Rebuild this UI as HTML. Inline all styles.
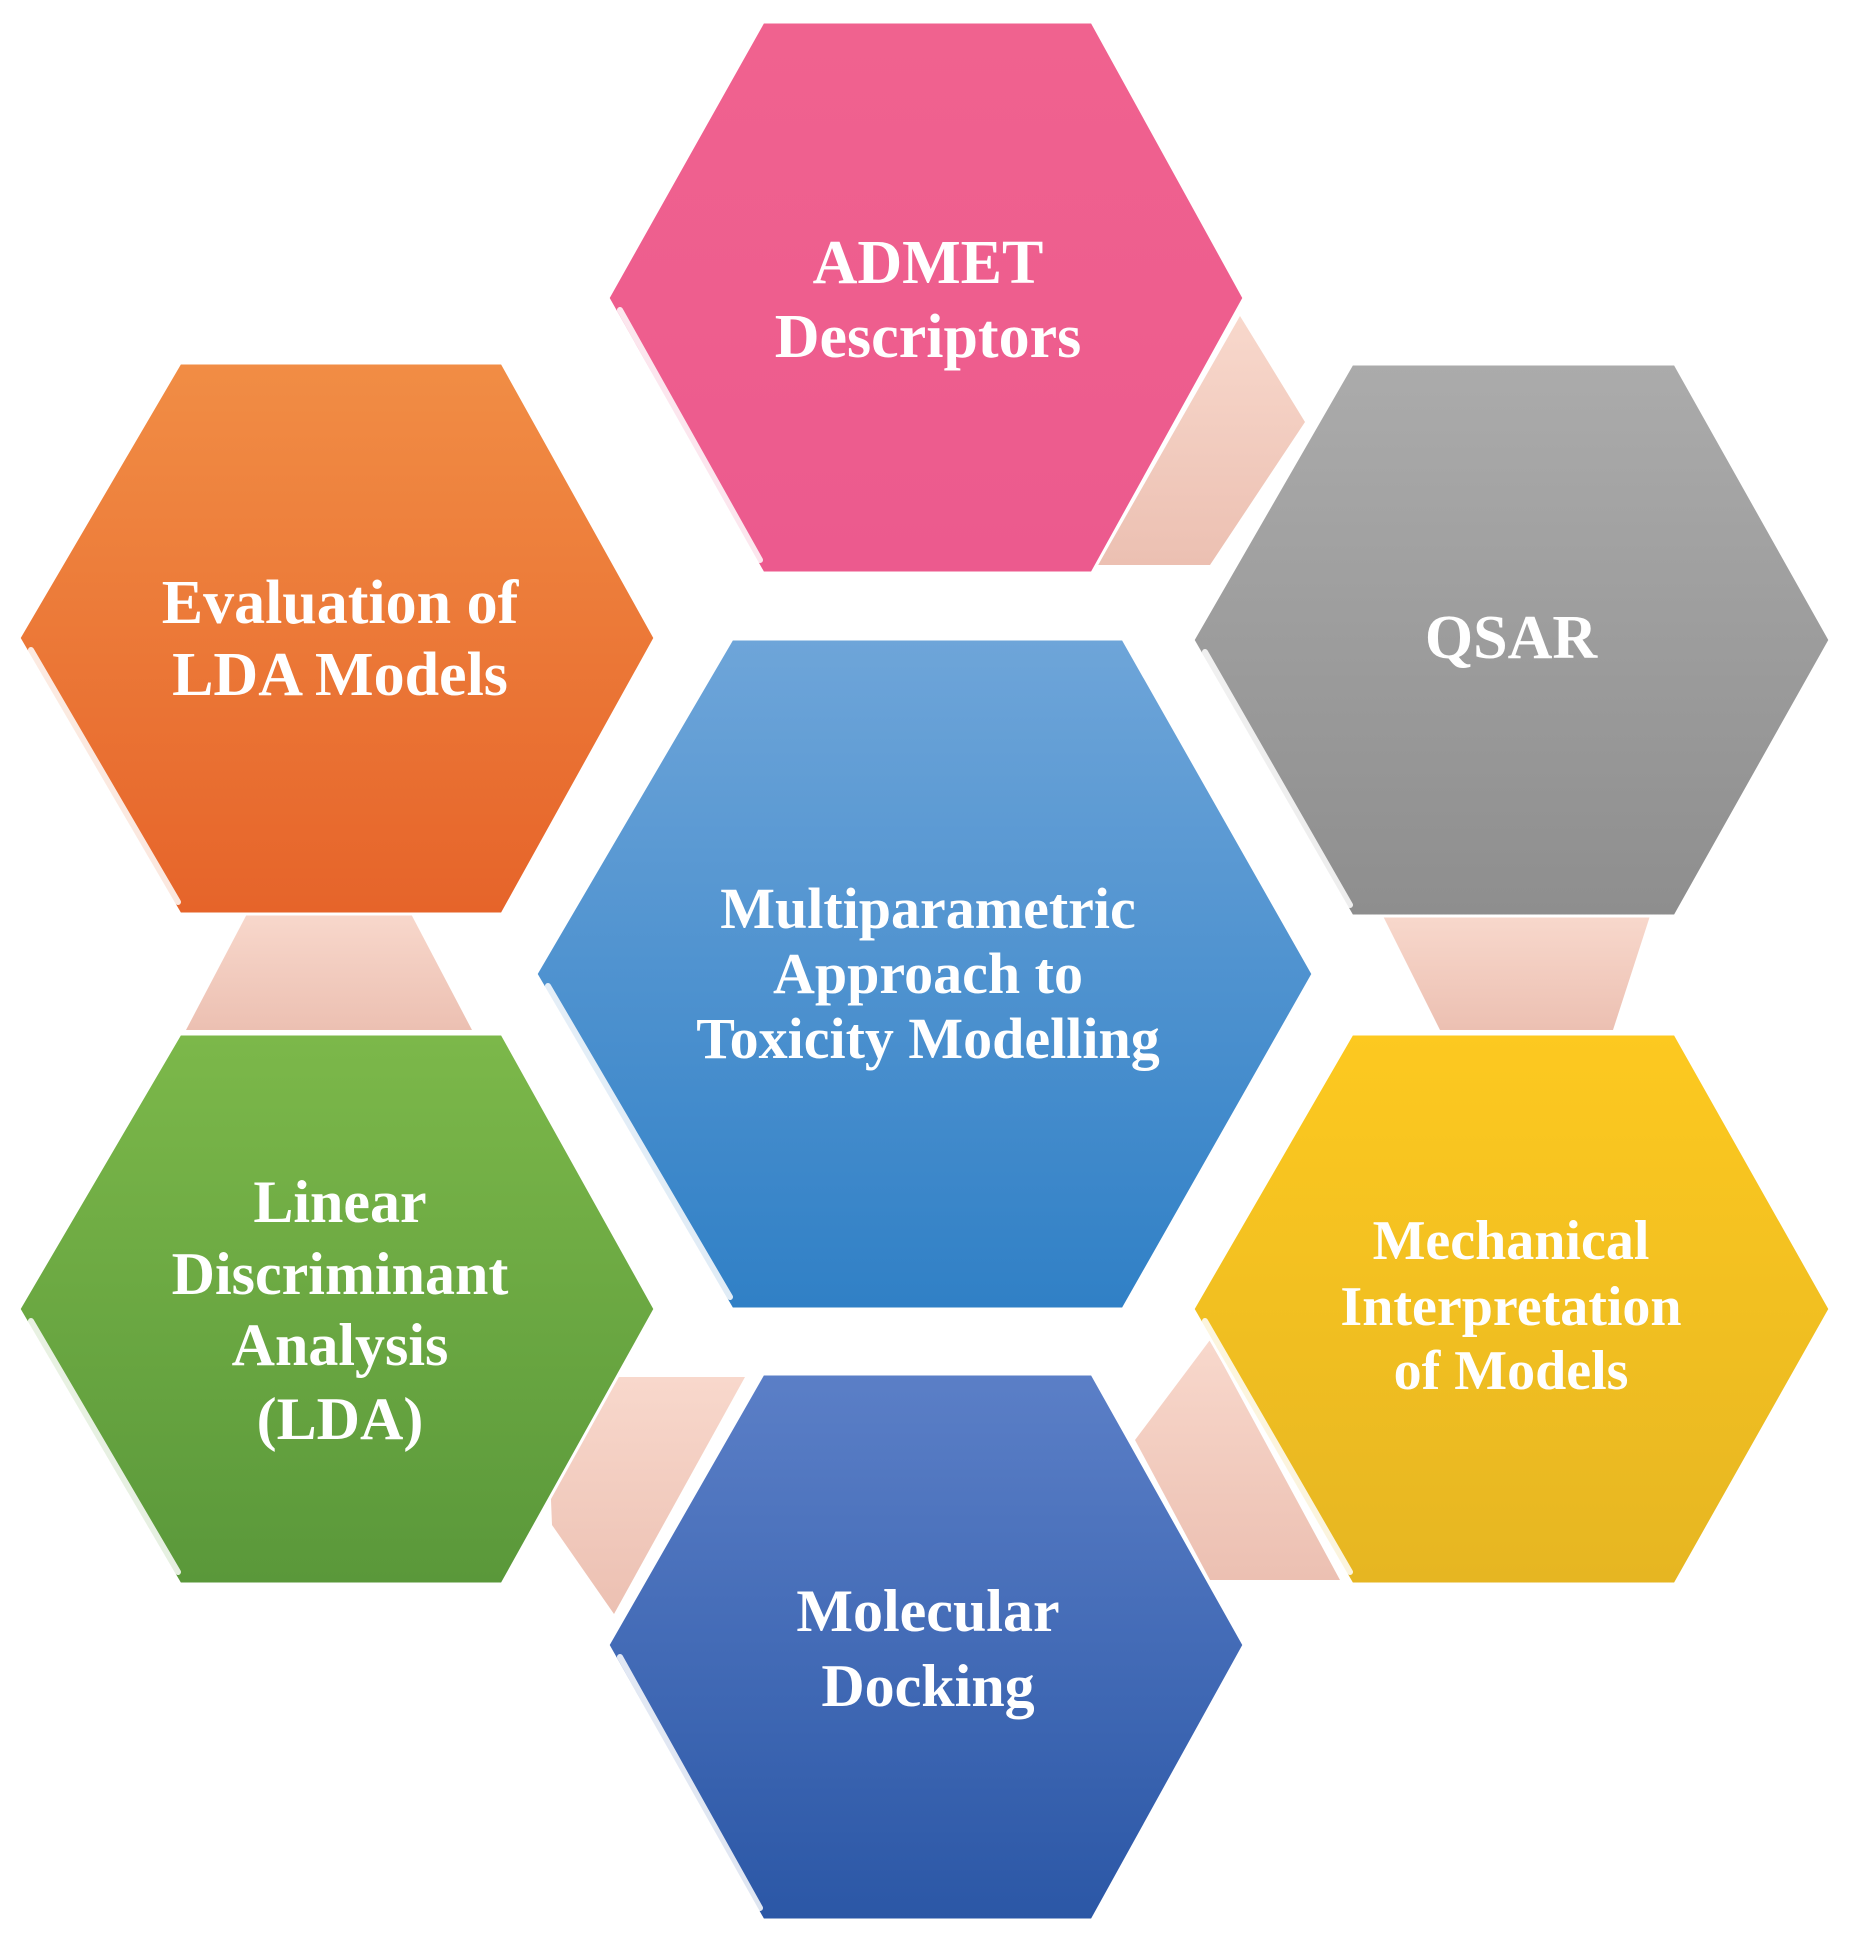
<!DOCTYPE html>
<html><head><meta charset="utf-8"><style>
html,body{margin:0;padding:0;background:#fff;}
svg{display:block}
text{font-family:"Liberation Serif",serif;font-weight:bold;fill:#fff;text-anchor:middle;}
</style></head><body>
<svg width="1850" height="1950" viewBox="0 0 1850 1950" xmlns="http://www.w3.org/2000/svg">
<defs>
<linearGradient id="pk" x1="0" y1="0" x2="0" y2="1"><stop offset="0" stop-color="#f0628f"/><stop offset="1" stop-color="#ec5a8e"/></linearGradient>
<linearGradient id="gr" x1="0" y1="0" x2="0" y2="1"><stop offset="0" stop-color="#ababab"/><stop offset="1" stop-color="#8e8e8e"/></linearGradient>
<linearGradient id="or" x1="0" y1="0" x2="0" y2="1"><stop offset="0" stop-color="#f18d45"/><stop offset="1" stop-color="#e6642a"/></linearGradient>
<linearGradient id="bl" x1="0" y1="0" x2="0" y2="1"><stop offset="0" stop-color="#6ea5d9"/><stop offset="1" stop-color="#3080c6"/></linearGradient>
<linearGradient id="gn" x1="0" y1="0" x2="0" y2="1"><stop offset="0" stop-color="#7cb84a"/><stop offset="1" stop-color="#5a983a"/></linearGradient>
<linearGradient id="yl" x1="0" y1="0" x2="0" y2="1"><stop offset="0" stop-color="#fdc920"/><stop offset="1" stop-color="#e6b622"/></linearGradient>
<linearGradient id="db" x1="0" y1="0" x2="0" y2="1"><stop offset="0" stop-color="#5b7fc7"/><stop offset="1" stop-color="#2b57a6"/></linearGradient>
<linearGradient id="cn" x1="0" y1="0" x2="0" y2="1"><stop offset="0" stop-color="#f8d8cc"/><stop offset="1" stop-color="#ecc0b2"/></linearGradient>
</defs>
<!-- connectors -->
<g fill="url(#cn)">
<polygon points="1240,316 1305,422 1210,565 1098,565"/>
<polygon points="1383,916 1650,916 1613,1030 1440,1030"/>
<polygon points="248,912 410,912 472,1030 186,1030"/>
<polygon points="546,1377 745,1377 614,1614 552,1525"/>
<polygon points="1210,1340 1340,1580 1210,1580 1135,1440"/>
</g>
<!-- hexagons -->
<g stroke="#fff" stroke-width="3">
<polygon fill="url(#pk)" points="763,22 1092,22 1244,298 1092,573 763,573 608,298"/>
<polygon fill="url(#gr)" points="1352,364 1675,364 1830,640 1675,916 1352,916 1193,640"/>
<polygon fill="url(#or)" points="180,363 502,363 655,638 502,914 180,914 19,638"/>
<polygon fill="url(#bl)" points="732,639 1123,639 1313,974 1123,1309 732,1309 536,974"/>
<polygon fill="url(#gn)" points="180,1034 502,1034 655,1309 502,1584 180,1584 19,1309"/>
<polygon fill="url(#yl)" points="1352,1034 1675,1034 1830,1309 1675,1584 1352,1584 1193,1309"/>
<polygon fill="url(#db)" points="763,1374 1092,1374 1244,1645 1092,1920 763,1920 608,1645"/>
</g>
<!-- highlights -->
<g stroke="#fff" stroke-width="6" opacity="0.85" stroke-linecap="round">
<line x1="620" y1="310" x2="760" y2="560"/>
<line x1="1205" y1="652" x2="1350" y2="905"/>
<line x1="31" y1="650" x2="178" y2="902"/>
<line x1="548" y1="986" x2="730" y2="1297"/>
<line x1="31" y1="1321" x2="178" y2="1572"/>
<line x1="1205" y1="1321" x2="1350" y2="1572"/>
<line x1="620" y1="1657" x2="760" y2="1908"/>
</g>
<g font-size="62">
<text x="928" y="283">ADMET</text>
<text x="928" y="357">Descriptors</text>
<text x="1511" y="658">QSAR</text>
<text x="340" y="623">Evaluation of</text>
<text x="340" y="695">LDA Models</text>
</g>
<g font-size="58">
<text x="928" y="928">Multiparametric</text>
<text x="928" y="993">Approach to</text>
<text x="928" y="1058">Toxicity Modelling</text>
</g>
<g font-size="60">
<text x="340" y="1222">Linear</text>
<text x="340" y="1294">Discriminant</text>
<text x="340" y="1365">Analysis</text>
<text x="340" y="1439">(LDA)</text>
<text x="928" y="1631">Molecular</text>
<text x="928" y="1706">Docking</text>
</g>
<g font-size="56">
<text x="1511" y="1259">Mechanical</text>
<text x="1511" y="1325">Interpretation</text>
<text x="1511" y="1389">of Models</text>
</g>
</svg>
</body></html>
